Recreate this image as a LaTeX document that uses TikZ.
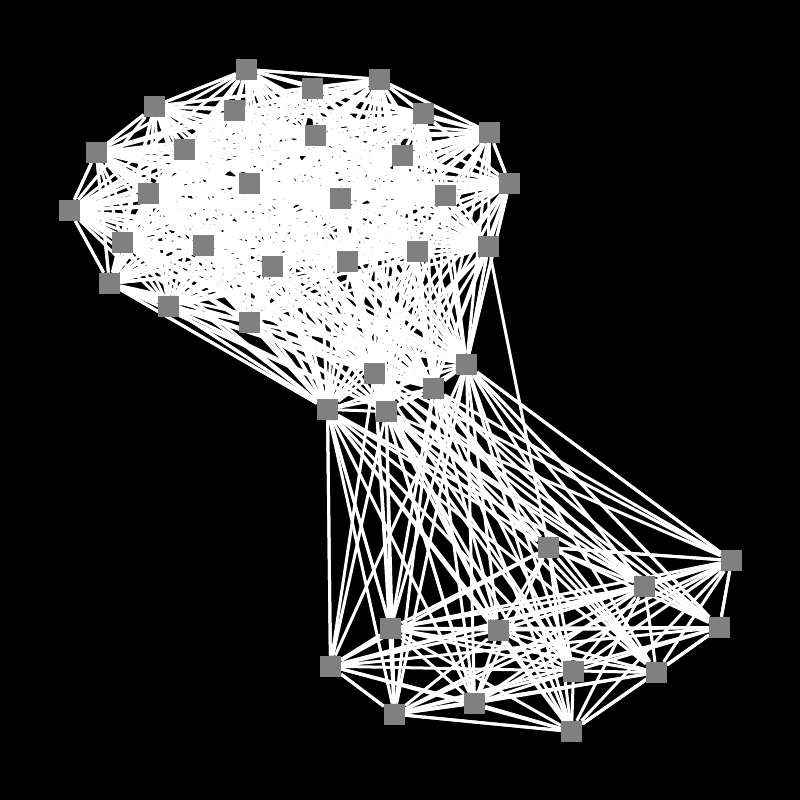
\documentclass[tikz,border=0pt]{standalone}
\usetikzlibrary{backgrounds}
\tikzset{vertex/.style={rectangle,fill=gray,draw=none,minimum size=21pt,inner sep=0pt},
  link/.style={white,line width=3pt}}
\begin{document}
\begin{tikzpicture}[x=1pt,y=-1pt]
\useasboundingbox (0,0) rectangle (800,800);
% upper group
\node[vertex] (v1) at (246.5,69.5) {};
\node[vertex] (v2) at (312.7,88.3) {};
\node[vertex] (v3) at (379.3,79.3) {};
\node[vertex] (v4) at (423.3,113.3) {};
\node[vertex] (v5) at (489.5,132.5) {};
\node[vertex] (v6) at (509.5,183.5) {};
\node[vertex] (v7) at (488.5,246.5) {};
\node[vertex] (v8) at (417.5,251.3) {};
\node[vertex] (v9) at (445.5,195.5) {};
\node[vertex] (v10) at (402.3,155.3) {};
\node[vertex] (v11) at (315.7,135.3) {};
\node[vertex] (v12) at (234.5,110.3) {};
\node[vertex] (v13) at (154.3,106.3) {};
\node[vertex] (v14) at (96.3,152.3) {};
\node[vertex] (v15) at (184.3,149.3) {};
\node[vertex] (v16) at (148.5,193.3) {};
\node[vertex] (v17) at (69.5,210.3) {};
\node[vertex] (v18) at (122.5,242.3) {};
\node[vertex] (v19) at (109.5,283.3) {};
\node[vertex] (v20) at (168.5,306.3) {};
\node[vertex] (v21) at (203.5,245.3) {};
\node[vertex] (v22) at (249.5,183.3) {};
\node[vertex] (v23) at (340.5,198.3) {};
\node[vertex] (v24) at (272.5,266.3) {};
\node[vertex] (v25) at (347.3,261.3) {};
\node[vertex] (v26) at (249.5,322.3) {};
% middle group
\node[vertex] (v27) at (374.5,373.5) {};
\node[vertex] (v28) at (466.5,364.3) {};
\node[vertex] (v29) at (433.5,388.5) {};
\node[vertex] (v30) at (386.3,411.5) {};
\node[vertex] (v31) at (327.5,409.5) {};
% lower group
\node[vertex] (v32) at (548.5,547.5) {};
\node[vertex] (v33) at (731.5,560.5) {};
\node[vertex] (v34) at (644.5,586.5) {};
\node[vertex] (v35) at (719.5,627.5) {};
\node[vertex] (v36) at (498.5,630.2) {};
\node[vertex] (v37) at (390.7,628.5) {};
\node[vertex] (v38) at (330.5,666.2) {};
\node[vertex] (v39) at (394.5,714.2) {};
\node[vertex] (v40) at (474.5,703.2) {};
\node[vertex] (v41) at (573.5,671.2) {};
\node[vertex] (v42) at (656.5,672.5) {};
\node[vertex] (v43) at (571.5,731.5) {};
\begin{scope}[on background layer]
\fill[black] (0,0) rectangle (800,800);
\foreach \i in {1,...,42}{
  \pgfmathtruncatemacro{\first}{\i+1}
  \foreach \j in {\first,...,43}{
    \pgfmathtruncatemacro{\gap}{mod(\i*7+\j*13,17)}
    \ifnum\j>31 \ifnum\i<27 \pgfmathtruncatemacro{\gap}{0}\fi\fi
    \ifnum\gap=0 \else
      \draw[link] (v\i) -- (v\j);
    \fi
  }
}
% outline and the single long line
\foreach \a/\b in {1/3,3/5,5/6,6/7,7/28,6/28,1/13,13/14,14/17,17/19,14/19,19/20,19/31,20/31,26/31,
  7/32,28/33,28/35,31/38,31/37,33/34,33/35,33/32,35/42,42/43,43/39,39/38,38/37,38/40,39/40,37/39}
  \draw[link] (v\a) -- (v\b);
\end{scope}
\end{tikzpicture}
\end{document}
